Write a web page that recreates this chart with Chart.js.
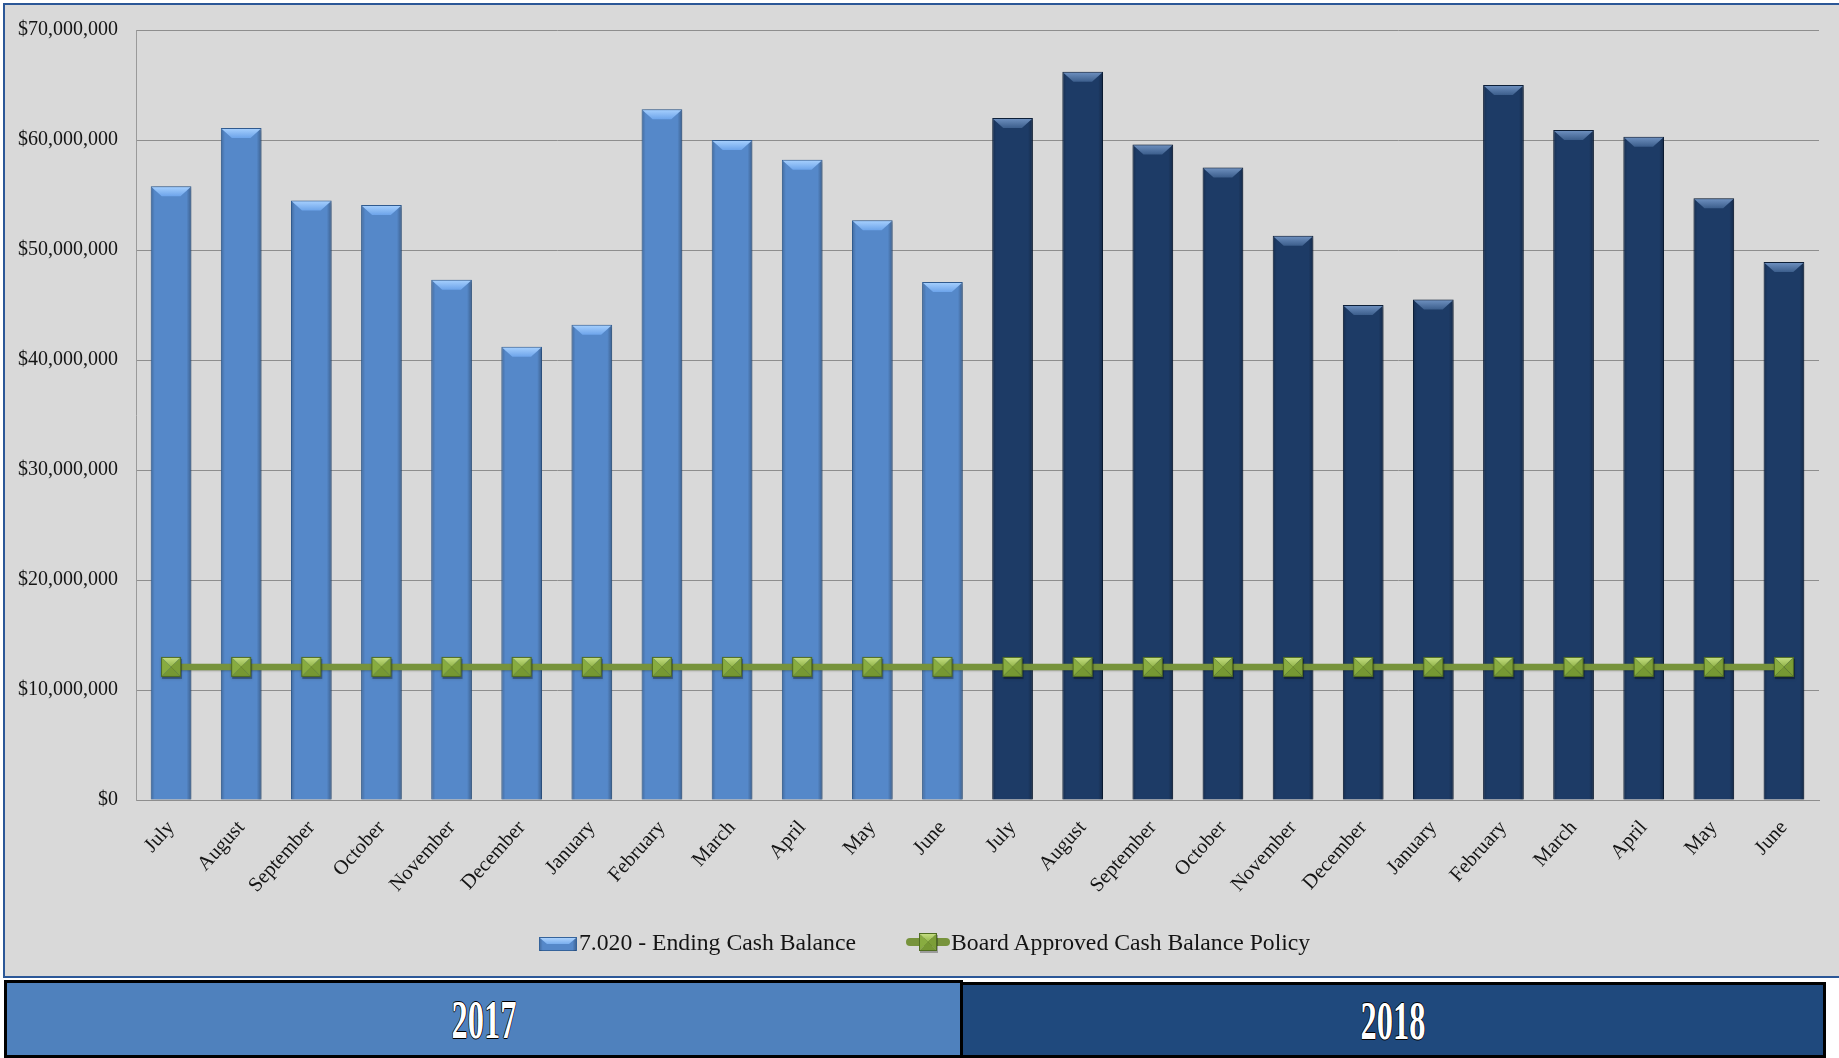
<!DOCTYPE html>
<html>
<head>
<meta charset="utf-8">
<title>Ending Cash Balance vs. Board Approved Cash Balance Policy</title>
<script src="https://cdn.jsdelivr.net/npm/chart.js@4/dist/chart.umd.min.js"></script>
<style>
  html, body { margin: 0; padding: 0; background: #ffffff; }
  body { width: 1839px; height: 1058px; position: relative; overflow: hidden; font-family: "Liberation Serif", "Times New Roman", serif; }
  #frame { position: absolute; left: 3px; top: 3px; width: 1840px; height: 975px; box-sizing: border-box;
           border: 2px solid #2B5797; border-right: none; background: #D9D9D9; }
  #chart { position: absolute; left: 0; top: 0; }
  .legText { position: absolute; top: 927px; font-size: 23.7px; line-height: 30px; color: #141414; white-space: nowrap; }
  .legIcon { position: absolute; }
  .yearBox { position: absolute; box-sizing: border-box; border: 3px solid #000; display: flex;
             align-items: center; justify-content: center; }
  .yearBox span { display: inline-block; color: #ffffff; font-weight: bold; font-size: 54px; line-height: 1;
                  transform: scaleX(0.6); margin-top: 2px;
                  text-shadow: -1px 0 #000, 1px 0 #000, 0 -1px #000, 0 1px #000; }
</style>
</head>
<body>
<div id="frame"></div>
<canvas id="chart" width="1839" height="975"></canvas>

<canvas class="legIcon" id="legBar" width="40" height="16" style="left:538px;top:936px;"></canvas>
<div class="legText" style="left:579px;">7.020 - Ending Cash Balance</div>
<canvas class="legIcon" id="legLine" width="46" height="26" style="left:905px;top:930px;"></canvas>
<div class="legText" style="left:951px;">Board Approved Cash Balance Policy</div>

<div class="yearBox" id="year0" style="left:4px;top:980px;width:959px;height:78px;background:#4F81BD;"><span></span></div>
<div class="yearBox" id="year1" style="left:960px;top:982px;width:866px;height:76px;background:#1F497D;"><span></span></div>

<script>
// Fiscal-year months, July through June
const months = ['July', 'August', 'September', 'October', 'November', 'December',
                'January', 'February', 'March', 'April', 'May', 'June'];
const fiscalYears = ['2017', '2018'];

// 7.020 - Ending Cash Balance, by month
const endingCash2017 = [55800000, 61100000, 54500000, 54100000, 47300000, 41200000,
                        43200000, 62800000, 60000000, 58200000, 52700000, 47100000];
const endingCash2018 = [62000000, 66200000, 59600000, 57500000, 51300000, 45000000,
                        45500000, 65000000, 60900000, 60300000, 54700000, 48900000];

// Board Approved Cash Balance Policy (flat minimum)
const cashPolicy = [12100000, 12100000, 12100000, 12100000, 12100000, 12100000,
                    12100000, 12100000, 12100000, 12100000, 12100000, 12100000,
                    12100000, 12100000, 12100000, 12100000, 12100000, 12100000,
                    12100000, 12100000, 12100000, 12100000, 12100000, 12100000];

const seriesNames = ['7.020 - Ending Cash Balance', 'Board Approved Cash Balance Policy'];

// Axis
const yMin = 0, yMax = 70000000, yStep = 10000000;

// Palette
const lightBar = { body: '#5588C9', edge: '#35639B', capTop: '#A9D2FF', capBottom: '#6DA4EA' };
const darkBar  = { body: '#1D3B66', edge: '#0F223D', capTop: '#7193C2', capBottom: '#3C5E8C' };
const policyGreen = '#77933C';

const categories = months.concat(months);
const endingCash = endingCash2017.concat(endingCash2018);
const barStyles = categories.map((_, i) => (i < months.length ? lightBar : darkBar));

// Bevelled square marker used for the policy line
function drawMarker(g, x, y, s) {
  const cx = x + s / 2, cy = y + s / 2;
  g.fillStyle = 'rgba(0,0,0,0.28)';
  g.fillRect(x + 1, y + 2, s, s);
  const tri = (pts, col) => {
    g.beginPath(); g.moveTo(pts[0], pts[1]); g.lineTo(pts[2], pts[3]); g.lineTo(pts[4], pts[5]);
    g.closePath(); g.fillStyle = col; g.fill();
  };
  const topGrad = g.createLinearGradient(0, y, 0, cy);
  topGrad.addColorStop(0, '#C9E286');
  topGrad.addColorStop(1, '#92B54A');
  tri([x, y, x + s, y, cx, cy], topGrad);
  tri([x + s, y, x + s, y + s, cx, cy], '#7C9E37');
  tri([x, y + s, x + s, y + s, cx, cy], '#769833');
  tri([x, y, x, y + s, cx, cy], '#88AC40');
  g.strokeStyle = '#506D22'; g.lineWidth = 1;
  g.strokeRect(x + 0.5, y + 0.5, s - 1, s - 1);
}

function makeMarkerImage(s) {
  const pad = 4;
  const cv = document.createElement('canvas');
  cv.width = s + pad * 2; cv.height = s + pad * 2;
  drawMarker(cv.getContext('2d'), pad, pad, s);
  return cv;
}

// Bevel shading for one bar: darker sides and a lighter trapezoid cap
function drawBarBevel(ctx, left, top, width, bottom, st) {
  const right = left + width;
  const h = bottom - top;
  const side = ctx.createLinearGradient(left, 0, right, 0);
  side.addColorStop(0, 'rgba(0,0,0,0.22)');
  side.addColorStop(0.1, 'rgba(0,0,0,0)');
  side.addColorStop(0.88, 'rgba(0,0,0,0)');
  side.addColorStop(1, 'rgba(0,0,0,0.3)');
  ctx.fillStyle = side;
  ctx.fillRect(left + 1, top + 1, width - 2, h - 1);
  const c = Math.min(10, h / 2);
  const cap = ctx.createLinearGradient(0, top, 0, top + c);
  cap.addColorStop(0, st.capTop);
  cap.addColorStop(1, st.capBottom);
  ctx.beginPath();
  ctx.moveTo(left + 1, top + 1);
  ctx.lineTo(right - 1, top + 1);
  ctx.lineTo(right - 1 - c, top + c);
  ctx.lineTo(left + 1 + c, top + c);
  ctx.closePath();
  ctx.fillStyle = cap;
  ctx.fill();
}

const barBevel = {
  id: 'barBevel',
  beforeDatasetDraw(chart, args) {
    if (args.meta.type !== 'bar') return;
    const ctx = chart.ctx;
    ctx.save();
    ctx.shadowColor = 'rgba(0,0,0,0.35)';
    ctx.shadowBlur = 4;
    ctx.shadowOffsetX = 1;
    ctx.shadowOffsetY = 1;
  },
  afterDatasetDraw(chart, args) {
    if (args.meta.type !== 'bar') return;
    const ctx = chart.ctx;
    ctx.restore();
    ctx.save();
    args.meta.data.forEach((bar, i) => {
      const p = bar.getProps(['x', 'y', 'base', 'width'], true);
      drawBarBevel(ctx, p.x - p.width / 2, p.y, p.width, p.base, barStyles[i]);
    });
    ctx.restore();
  }
};

const policyLineShadow = {
  id: 'policyLineShadow',
  beforeDatasetDraw(chart, args) {
    if (args.meta.type !== 'line') return;
    const ctx = chart.ctx;
    ctx.save();
    ctx.shadowColor = 'rgba(0,0,0,0.25)';
    ctx.shadowBlur = 2;
    ctx.shadowOffsetY = 1;
  },
  afterDatasetDraw(chart, args) {
    if (args.meta.type !== 'line') return;
    chart.ctx.restore();
  }
};

const markerImage = makeMarkerImage(20);
const tickFont = { family: '"Liberation Serif", "Times New Roman", serif', size: 20 };

new Chart(document.getElementById('chart'), {
  data: {
    labels: categories,
    datasets: [
      {
        type: 'line',
        label: seriesNames[1],
        data: cashPolicy,
        order: 1,
        borderColor: policyGreen,
        borderWidth: 6.5,
        tension: 0,
        pointStyle: markerImage,
        pointRadius: 10,
        pointHoverRadius: 10
      },
      {
        type: 'bar',
        label: seriesNames[0],
        data: endingCash,
        order: 2,
        backgroundColor: barStyles.map(s => s.body),
        borderColor: barStyles.map(s => s.edge),
        borderWidth: 1,
        barPercentage: 0.58,
        categoryPercentage: 1.0
      }
    ]
  },
  options: {
    responsive: false,
    animation: false,
    devicePixelRatio: 1,
    layout: { padding: { top: 28, left: 0, right: 20, bottom: 0 } },
    plugins: {
      legend: { display: false },
      tooltip: { enabled: false }
    },
    scales: {
      x: {
        offset: true,
        grid: { display: false, drawTicks: false },
        border: { display: true, color: '#8E8E8E', width: 1 },
        ticks: {
          autoSkip: false,
          maxRotation: 48,
          minRotation: 48,
          padding: 16,
          color: '#151515',
          font: { family: tickFont.family, size: 20.5 }
        },
        afterFit(scale) { scale.height = 175; }
      },
      y: {
        min: yMin,
        max: yMax,
        grid: { color: '#8E8E8E', lineWidth: 1, drawTicks: false },
        border: { display: true, color: '#9A9A9A', width: 1 },
        ticks: {
          stepSize: yStep,
          padding: 18,
          color: '#151515',
          font: tickFont,
          callback: v => '$' + Number(v).toLocaleString('en-US')
        },
        afterFit(scale) { scale.width = 136; }
      }
    }
  },
  plugins: [barBevel, policyLineShadow]
});

// Legend swatches
(function () {
  const gb = document.getElementById('legBar').getContext('2d');
  gb.fillStyle = lightBar.body;
  gb.fillRect(1, 1, 38, 14);
  gb.strokeStyle = lightBar.edge; gb.lineWidth = 1;
  gb.strokeRect(1.5, 1.5, 37, 13);
  drawBarBevel(gb, 1, 1, 38, 15, { capTop: '#B4D8FF', capBottom: '#79AEEE' });

  const gl = document.getElementById('legLine').getContext('2d');
  gl.strokeStyle = policyGreen; gl.lineWidth = 8; gl.lineCap = 'round';
  gl.beginPath(); gl.moveTo(5, 12); gl.lineTo(41, 12); gl.stroke();
  drawMarker(gl, 14, 3, 18);
})();

// Fiscal-year bands under the chart
document.querySelector('#year0 span').textContent = fiscalYears[0];
document.querySelector('#year1 span').textContent = fiscalYears[1];
</script>
</body>
</html>
